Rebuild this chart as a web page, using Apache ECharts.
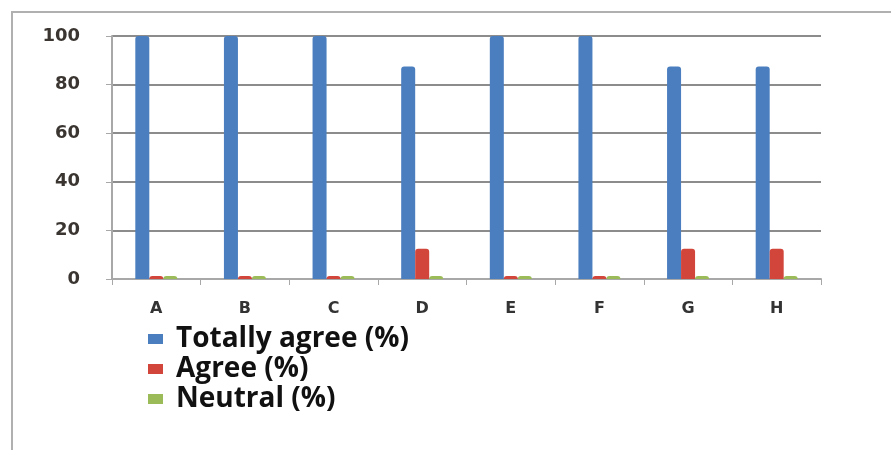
<!DOCTYPE html>
<html>
<head>
<meta charset="utf-8">
<script src="https://cdn.jsdelivr.net/npm/echarts@6/dist/echarts.min.js"></script>
<style>
  html, body { margin: 0; padding: 0; background: #fff; }
  #chart { width: 891px; height: 450px; }
</style>
</head>
<body>
<div id="chart"></div>
<script>
var categories = ['A', 'B', 'C', 'D', 'E', 'F', 'G', 'H'];
var totallyAgree = [100, 100, 100, 87.5, 100, 100, 87.5, 87.5];
var agree = [0, 0, 0, 12.5, 0, 0, 12.5, 12.5];
var neutral = [0, 0, 0, 0, 0, 0, 0, 0];
var yTicks = [0, 20, 40, 60, 80, 100];

var chart = echarts.init(document.getElementById('chart'));

function barSeries(name, data, color) {
	return {
		name: name,
		type: 'bar',
		data: data,
		barWidth: 14,
		barGap: '0%',
		barMinHeight: 3,
		itemStyle: { color: color, borderRadius: [3, 3, 0, 0] }
	};
}

chart.setOption({
	animation: false,
	graphic: [{
		type: 'rect',
		shape: { x: 12, y: 12, width: 900, height: 460 },
		style: { fill: 'none', stroke: '#b0b0b0', lineWidth: 2 },
		silent: true
	}],
	grid: { left: 112, right: 70, top: 36, bottom: 171 },
	legend: {
		orient: 'vertical',
		left: 143,
		top: 319,
		itemWidth: 15,
		itemHeight: 10,
		itemGap: 0,
		icon: 'rect',
		textStyle: {
			fontFamily: 'Open Sans', fontWeight: 'bold', fontSize: 28, lineHeight: 30,
			color: '#111', padding: [0, 0, 0, 8]
		},
		data: ['Totally agree (%)', 'Agree (%)', 'Neutral (%)']
	},
	xAxis: {
		type: 'category',
		data: categories,
		axisLine: { lineStyle: { color: '#a8a8a8', width: 2 } },
		axisTick: { show: true, length: 6, lineStyle: { color: '#a8a8a8' } },
		axisLabel: { margin: 22, fontFamily: 'DejaVu Sans', fontWeight: 'bold', fontSize: 16, color: '#333' }
	},
	yAxis: {
		type: 'value',
		min: yTicks[0],
		max: yTicks[yTicks.length - 1],
		interval: 20,
		axisLine: { show: true, lineStyle: { color: '#a8a8a8', width: 2 } },
		axisTick: { show: true, length: 6, lineStyle: { color: '#a8a8a8' } },
		axisLabel: { margin: 32, fontFamily: 'DejaVu Sans', fontWeight: 'bold', fontSize: 18, color: '#3a3530' },
		splitLine: { lineStyle: { color: '#8c8c8c', width: 2 } }
	},
	series: [
		barSeries('Totally agree (%)', totallyAgree, '#4a7ebf'),
		barSeries('Agree (%)', agree, '#d2453b'),
		barSeries('Neutral (%)', neutral, '#9bbb59')
	]
});
</script>
</body>
</html>
